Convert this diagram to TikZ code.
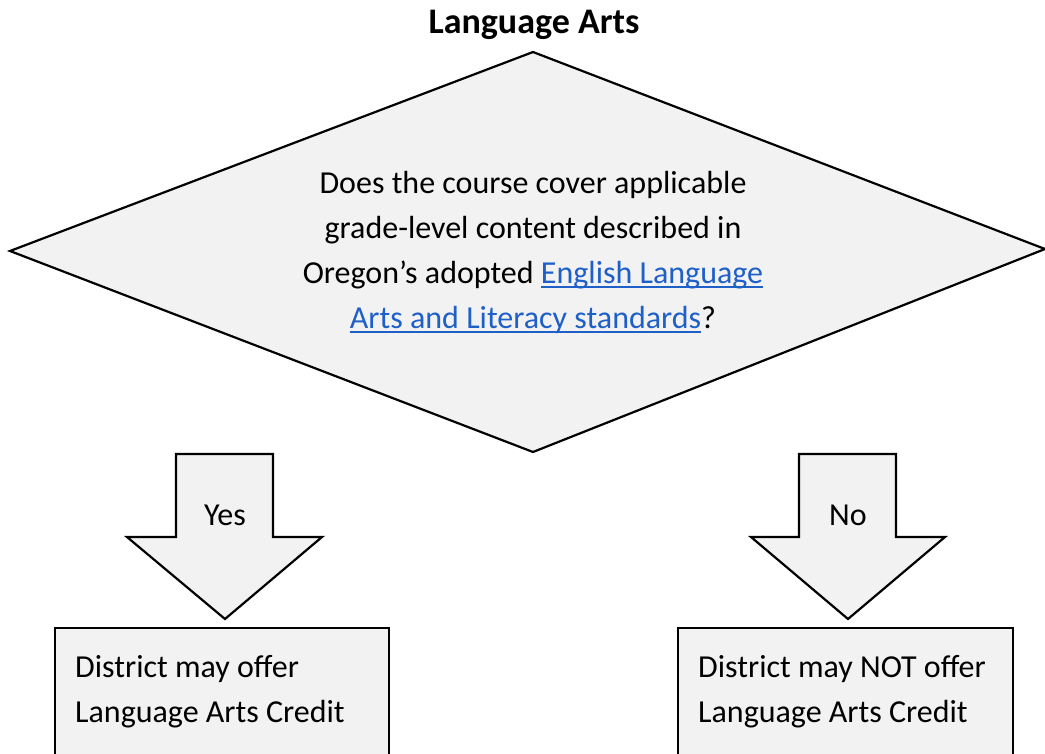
\documentclass[tikz,border=0pt]{standalone}
\usepackage{fontspec}
\setmainfont{Carlito}
\definecolor{shade}{HTML}{F2F2F2}
\definecolor{linkblue}{HTML}{1F5FC8}
\newcommand{\lnk}[1]{{\color{linkblue}\setbox0\hbox{#1}\rlap{\vrule height -3pt depth 5pt width \wd0}\box0}}
\begin{document}
\begin{tikzpicture}[x=1pt,y=-1pt,
  shapeline/.style={draw=black, line width=2.2pt, fill=shade, line join=miter},
  txt/.style={font=\fontsize{32}{44.7}\selectfont, inner sep=0pt}]
\useasboundingbox (0,0) rectangle (1045,753);
\clip (0,0) rectangle (1045,753);
\node[txt, font=\fontsize{36}{40}\selectfont\bfseries, anchor=base] (title) at (534,33) {Language Arts};
\draw[shapeline] (10,251) -- (533,52) -- (1045,249) -- (533,452) -- cycle;
\node[txt, align=center, anchor=base] (question) at (533,328)
  {Does the course cover applicable\\grade-level content described in\\Oregon’s adopted \lnk{English Language}\\\lnk{Arts and Literacy standards}?};
% Yes arrow
\draw[shapeline] (176,454) -- (273,454) -- (273,537) -- (322,537) -- (225,619) -- (127,537) -- (176,537) -- cycle;
\node[txt] (yes) at (225,515) {Yes};
% No arrow
\draw[shapeline] (799,454) -- (896,454) -- (896,537) -- (945,537) -- (848,619) -- (751,537) -- (799,537) -- cycle;
\node[txt] (no) at (848,515) {No};
% boxes
\node[shapeline, inner sep=0pt, minimum width=334pt, minimum height=160pt, anchor=north west] (yesbox) at (54,627) {};
\node[shapeline, inner sep=0pt, minimum width=335pt, minimum height=160pt, anchor=north west] (nobox) at (677,627) {};
\node[txt, align=left, anchor=base west] (yestext) at (75,722) {District may offer\\Language Arts Credit};
\node[txt, align=left, anchor=base west] (notext) at (698,722) {District may NOT offer\\Language Arts Credit};
\end{tikzpicture}
\end{document}
